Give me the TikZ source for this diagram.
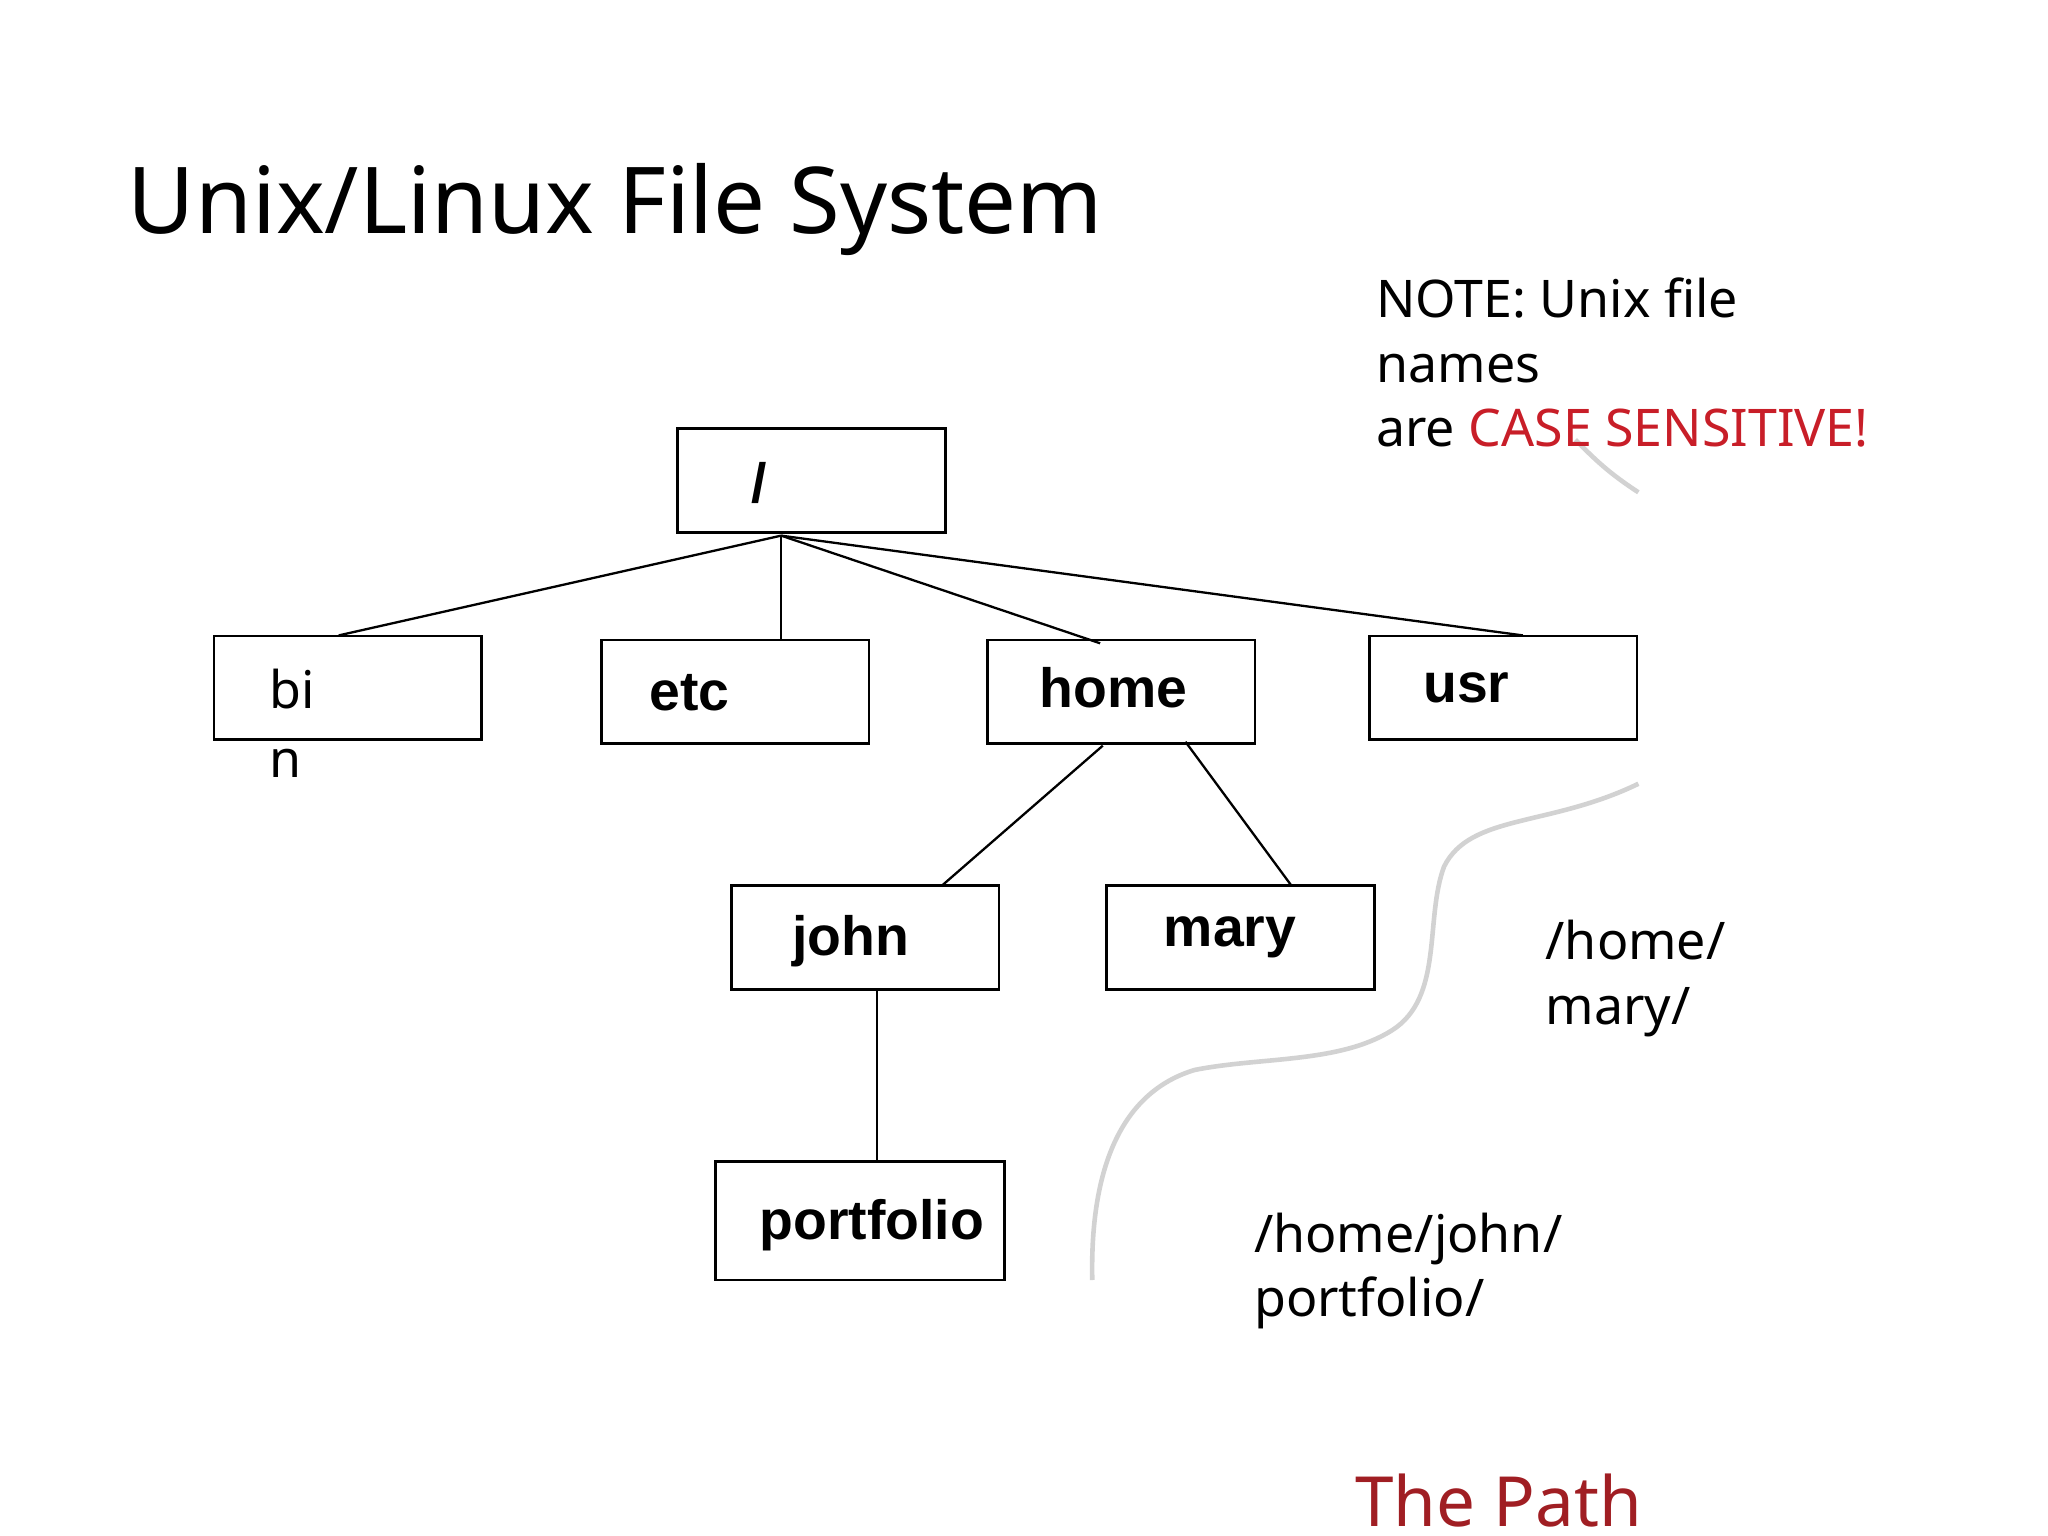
\documentclass[tikz,border=0pt]{standalone}
\usepackage{fontspec}
\setmainfont{Noto Sans}
\newfontfamily\boxfont{Liberation Sans}
\definecolor{casered}{RGB}{200,30,40}
\definecolor{pathred}{RGB}{160,30,35}
\begin{document}
\begin{tikzpicture}[x=0.02cm,y=-0.02cm,
 bx/.style={draw,line width=1.2pt,minimum width=4.08cm,minimum height=1.58cm,inner sep=0pt},
 lbl/.style={font=\boxfont\bfseries\fontsize{24}{26}\selectfont},
 txt/.style={anchor=base west,inner sep=0pt,font=\fontsize{22.5}{28}\selectfont},
 conn/.style={line width=1pt}]
\useasboundingbox (0,0) rectangle (1560,1170);
\node[txt,font=\fontsize{40}{48}\selectfont] (title) at (97,178) {Unix/Linux File System};
\node[bx] (root) at (618,366) {};
\node[lbl] (rootl) at (578,368) {/};
\node[bx] (bin) at (265,524) {};
\node[txt] (binl1) at (205,540) {bi};
\node[txt] (binl2) at (205,592) {n};
\node[bx] (etc) at (560,527) {};
\node[lbl] (etcl) at (525,528) {etc};
\node[bx] (home) at (854,527) {};
\node[lbl] (homel) at (848,524) {home};
\node[bx] (usr) at (1145,524) {};
\node[lbl] (usrl) at (1117,524) {usr};
\node[bx] (john) at (659,714) {};
\node[lbl] (johnl) at (648,717) {john};
\node[bx] (mary) at (945,714) {};
\node[lbl] (maryl) at (937,714) {mary};
\node[bx,minimum width=4.4cm,minimum height=1.8cm] (port) at (655,930) {};
\node[lbl] (portl) at (664,933) {portfolio};
\coordinate (r0) at (595,408);
\coordinate (jp) at (668,0);
\draw[conn] (r0) -- (258,484);
\draw[conn] (r0) -- (etc.north -| r0);
\draw[conn] (r0) -- (838,490);
\draw[conn] (r0) -- (1160,484);
\draw[conn] (840,568) -- (717,675);
\draw[conn] (903,565) -- (984,675);
\draw[conn] (john.south -| jp) -- (port.north -| jp);
\draw[gray!35,line width=2pt] (1248,375) .. controls (1225,360) and (1215,350) .. (1200,335);
\draw[gray!35,line width=2pt] (1248,597) .. controls (1180,630) and (1120,620) .. (1100,660)
 .. controls (1085,700) and (1100,760) .. (1060,785) .. controls (1020,810) and (960,805) .. (910,815)
 .. controls (860,830) and (830,880) .. (832,975);
\node[txt] (n1) at (1048,242) {NOTE: Unix file};
\node[txt] (n2) at (1048,291) {names};
\node[txt] (n3) at (1048,340) {are \textcolor{casered}{CASE SENSITIVE!}};
\node[txt] (m1) at (1177,731) {/home/};
\node[txt] (m2) at (1177,780) {mary/};
\node[txt] (p1) at (955,954) {/home/john/};
\node[txt] (p2) at (955,1003) {portfolio/};
\node[txt,font=\fontsize{30}{34}\selectfont,text=pathred] (path) at (1032,1163) {The Path};
\end{tikzpicture}
\end{document}
